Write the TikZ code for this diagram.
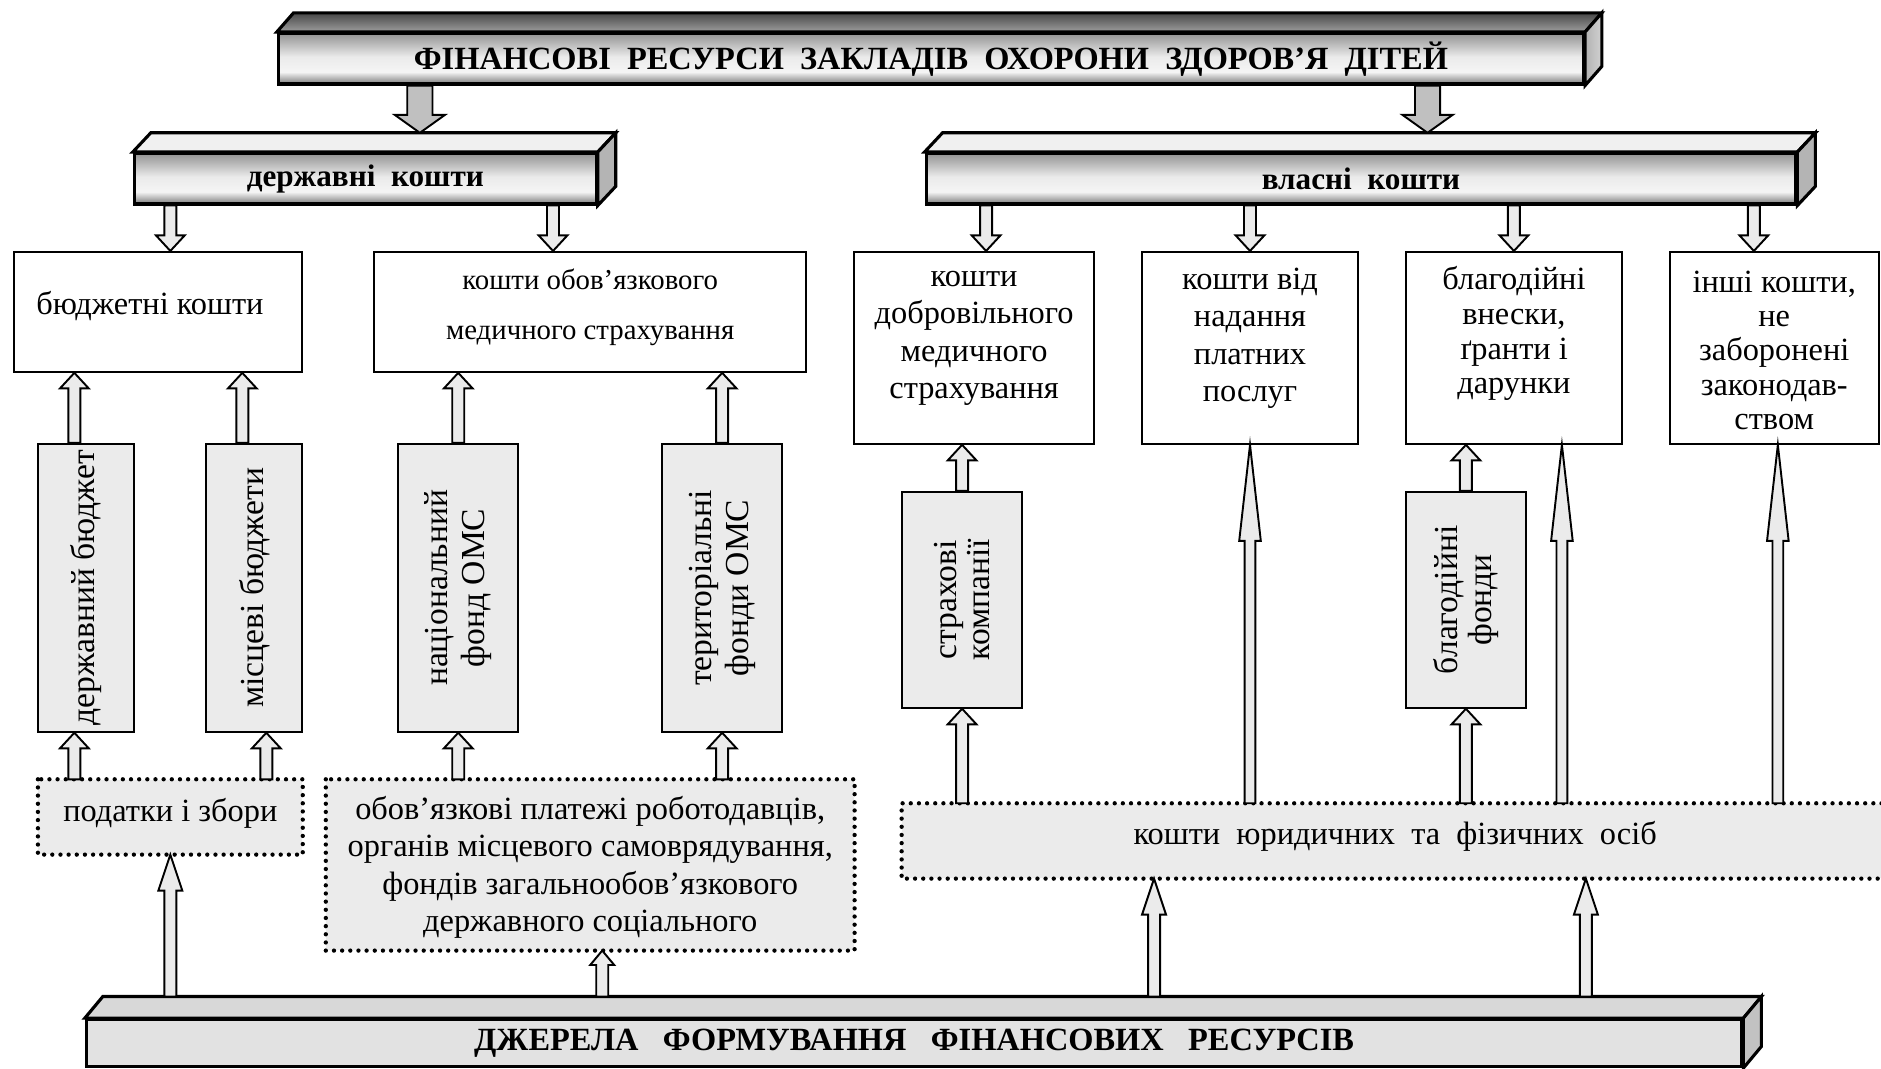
\documentclass[tikz,border=0pt]{standalone}
\usepackage{fontspec}
\setmainfont{Liberation Serif}
\usetikzlibrary{calc}
\definecolor{boxgray}{HTML}{EBEBEB}
\definecolor{dotgray}{HTML}{EBEBEB}
\definecolor{arrgray}{HTML}{C0C0C0}
\definecolor{slabtop}{HTML}{F0F0F0}
\definecolor{slabside}{HTML}{B4B4B4}
\definecolor{srcfront}{HTML}{E2E2E2}
\definecolor{srctop}{HTML}{D8D8D8}
\definecolor{srcside}{HTML}{C2C2C2}
% front face of the raised bars: grey edges, light band below the middle
\pgfdeclareverticalshading{slabshade}{100bp}{color(0bp)=(black!52); color(25bp)=(black!52); color(37bp)=(white!96!black); color(52bp)=(white!92!black); color(75bp)=(black!42); color(100bp)=(black!42)}
\begin{document}
\begin{tikzpicture}[x=0.5pt,y=-0.5pt,
  sz/.style 2 args={minimum width=#1*0.5pt, minimum height=#2*0.5pt},
  edge/.style={line width=0.8pt},
  slab/.style={draw, line width=1.3pt, inner sep=0pt, shade, shading=slabshade},
  whitebox/.style={draw, edge, fill=white, inner sep=0pt},
  graybox/.style={draw, edge, fill=boxgray, inner sep=0pt},
  dotbox/.style={fill=dotgray, inner sep=0pt},
  dotline/.style={line width=1.8pt, line cap=round, dash pattern=on 0pt off 3.4pt},
  txt/.style={inner sep=0pt, align=center, font=\fontsize{13.5}{15.5}\selectfont},
  vtxt/.style={txt, rotate=90, font=\fontsize{14}{15.5}\selectfont},
  blk/.style n args={4}{draw, edge, fill=#4, to path={
     let \p1=(\tikztostart), \p2=(\tikztotarget), \n1={sign(\y2-\y1)} in
     ({\x1-#1},\y1) -- ({\x1-#1},{\y2-(\n1)*(#3)}) -- ({\x1-#2},{\y2-(\n1)*(#3)}) -- (\x1,\y2)
     -- ({\x1+#2},{\y2-(\n1)*(#3)}) -- ({\x1+#1},{\y2-(\n1)*(#3)}) -- ({\x1+#1},\y1) -- cycle}},
  bigarrow/.style={blk={5.25pt}{10.5pt}{7.5pt}{arrgray}},
  smallarrow/.style={blk={2.5pt}{6pt}{6.5pt}{boxgray}},
  longarrow/.style={blk={2.25pt}{4.5pt}{40pt}{boxgray}},
  midarrow/.style={blk={2.5pt}{5pt}{15pt}{boxgray}},
]
\useasboundingbox (0,0) rectangle (1568,891);

% ---------- top bar ----------
\node[slab, sz={1088}{42}, font=\bfseries\fontsize{13.5}{15}\selectfont] (fin) at (776,49)
  {ФІНАНСОВІ\ \ РЕСУРСИ\ \ ЗАКЛАДІВ\ \ ОХОРОНИ\ \ ЗДОРОВ’Я\ \ ДІТЕЙ};
\path[draw, line width=1.3pt, top color=black!72, bottom color=black!38]
  (fin.north west) -- ++(14,-16) -- ($(fin.north east)+(14,-16)$) -- (fin.north east) -- cycle;
\path[draw, line width=1.3pt, left color=black!30, right color=black!18]
  (fin.north east) -- ++(14,-16) -- ($(fin.south east)+(14,-16)$) -- (fin.south east) -- cycle;

% ---------- second level bars ----------
\node[slab, sz={385}{42}, font=\bfseries\fontsize{13}{15}\selectfont] (st) at (304.5,149) {державні\ \ кошти};
\path[draw, line width=1.3pt, fill=slabtop]
  (st.north west) -- ++(15,-16) -- ($(st.north east)+(15,-16)$) -- (st.north east) -- cycle;
\path[draw, line width=1.3pt, fill=slabside]
  (st.north east) -- ++(15,-16) -- ($(st.south east)+(15,-16)$) -- (st.south east) -- cycle;

\node[slab, sz={725}{42}, font=\bfseries\fontsize{13}{15}\selectfont] (ow) at (1134.5,149) {власні\ \ кошти};
\path[draw, line width=1.3pt, fill=slabtop]
  (ow.north west) -- ++(15,-16) -- ($(ow.north east)+(15,-16)$) -- (ow.north east) -- cycle;
\path[draw, line width=1.3pt, fill=slabside]
  (ow.north east) -- ++(15,-16) -- ($(ow.south east)+(15,-16)$) -- (ow.south east) -- cycle;

% ---------- kinds of funds ----------
\node[whitebox, sz={240}{100}] (bk) at (132,260) {};
\node[whitebox, sz={360}{100}] (omc) at (492,260) {};
\node[whitebox, sz={200}{160}] (dms) at (812,290) {};
\node[whitebox, sz={180}{160}] (pp) at (1042,290) {};
\node[whitebox, sz={180}{160}] (bv) at (1262,290) {};
\node[whitebox, sz={174}{160}] (ik) at (1479,290) {};

\node[txt] (bkT) at (125,255) {бюджетні кошти};
\node[txt, font=\fontsize{12}{21}\selectfont] (omcT) at (492,256) {кошти обов’язкового\\медичного страхування};
\node[txt] (dmsT) at (812,282) {кошти\\добровільного\\медичного\\страхування};
\node[txt] (ppT) at (1042,282) {кошти від\\надання\\платних\\послуг};
\node[txt, font=\fontsize{13.5}{14.5}\selectfont] (bvT) at (1262,278) {благодійні\\внески,\\ґранти і\\дарунки};
\node[txt, font=\fontsize{13.5}{14.3}\selectfont] (ikT) at (1479,292) {інші кошти,\\не\\заборонені\\законодав-\\ством};

% ---------- intermediaries ----------
\node[graybox, sz={80}{240}] (db) at (72,490) {};
\node[graybox, sz={80}{240}] (mb) at (212,490) {};
\node[graybox, sz={100}{240}] (nf) at (382,490) {};
\node[graybox, sz={100}{240}] (tf) at (602,490) {};
\node[graybox, sz={100}{180}] (sk) at (802,500) {};
\node[graybox, sz={100}{180}] (bf) at (1222,500) {};

\node[vtxt] (dbT) at (db.center) {державний бюджет};
\node[vtxt] (mbT) at (mb.center) {місцеві бюджети};
\node[vtxt] (nfT) at (nf.center) {національний\\фонд ОМС};
\node[vtxt] (tfT) at (tf.center) {територіальні\\фонди ОМС};
\node[vtxt, font=\fontsize{14}{14}\selectfont] (skT) at (sk.center) {страхові\\компанії};
\node[vtxt, font=\fontsize{14}{14.5}\selectfont] (bfT) at (bf.center) {благодійні\\фонди};

% ---------- payments ----------
\node[dotbox, sz={220}{62}] (pz) at (142,681) {};
\node[dotbox, sz={440}{142}] (op) at (492,721) {};
\node[dotbox, sz={816}{62}] (kj) at (1160,701) {};
\draw[dotline] (pz.north west) rectangle (pz.south east);
\draw[dotline] (op.north west) rectangle (op.south east);
\draw[dotline] (kj.north east) -- (kj.north west) -- (kj.south west) -- (kj.south east);

\node[txt] (pzT) at (142,678) {податки і збори};
\node[txt] (opT) at (492,723) {обов’язкові платежі роботодавців,\\органів місцевого самоврядування,\\фондів загальнообов’язкового\\державного соціального};
\node[txt] (kjT) at (1163,697) {кошти\ \ юридичних\ \ та\ \ фізичних\ \ осіб};

% ---------- bottom bar ----------
\node[draw, line width=1.3pt, fill=srcfront, sz={1380}{39}, inner sep=0pt,
  font=\bfseries\fontsize{13.5}{15}\selectfont] (src) at (762,869.5)
  {ДЖЕРЕЛА\ \ \ ФОРМУВАННЯ\ \ \ ФІНАНСОВИХ\ \ \ РЕСУРСІВ};
\path[draw, line width=1.3pt, fill=srctop]
  (src.north west) -- ++(15,-18) -- ($(src.north east)+(15,-18)$) -- (src.north east) -- cycle;
\path[draw, line width=1.3pt, fill=srcside]
  (src.north east) -- ++(15,-18) -- ($(src.south east)+(15,-18)$) -- (src.south east) -- cycle;

% ---------- arrows ----------
\draw[bigarrow] ([xshift=-213pt]fin.south) to ([yshift=8pt]st.north);
\draw[bigarrow] ([xshift=207pt]fin.south) to ([yshift=8pt]ow.north);

\draw[smallarrow] ([xshift=5pt]st.south -| bk.north) to (bk.north);
\draw[smallarrow] ([xshift=-15.5pt]st.south -| omc.north) to (omc.north);
\draw[smallarrow] ([xshift=5pt]ow.south -| dms.north) to (dms.north);
\draw[smallarrow] (ow.south -| pp.north) to (pp.north);
\draw[smallarrow] (ow.south -| bv.north) to (bv.north);
\draw[smallarrow] ([xshift=-8.5pt]ow.south -| ik.north) to (ik.north);

\draw[smallarrow] ([xshift=-5pt]db.north) to (bk.south);
\draw[smallarrow] ([xshift=-5pt]mb.north) to (bk.south);
\draw[smallarrow] (nf.north) to (omc.south);
\draw[smallarrow] (tf.north) to (omc.south);
\draw[smallarrow] (sk.north) to (dms.south);
\draw[smallarrow] (bf.north) to (bv.south);

\draw[smallarrow] ([xshift=-5pt]pz.north -| db.south) to (db.south);
\draw[smallarrow] ([xshift=5pt]pz.north -| mb.south) to (mb.south);
\draw[smallarrow] (op.north -| nf.south) to (nf.south);
\draw[smallarrow] (op.north -| tf.south) to (tf.south);
\draw[smallarrow] (kj.north -| sk.south) to (sk.south);
\draw[smallarrow] (kj.north -| bf.south) to (bf.south);
\draw[longarrow] (kj.north -| pp.south) to (pp.south);
\draw[longarrow] ([xshift=20pt]kj.north -| bv.south) to (bv.south);
\draw[longarrow] ([xshift=1.5pt]kj.north -| ik.south) to (ik.south);

\draw[midarrow] ([yshift=9pt]src.north -| pz.south) to (pz.south);
\draw[blk={2.5pt}{5pt}{6pt}{boxgray}] ([yshift=9pt,xshift=5pt]src.north -| op.south) to (op.south);
\draw[midarrow] ([yshift=9pt,xshift=-99pt]src.north -| kj.south) to (kj.south);
\draw[midarrow] ([yshift=9pt,xshift=81pt]src.north -| kj.south) to (kj.south);
\end{tikzpicture}
\end{document}
